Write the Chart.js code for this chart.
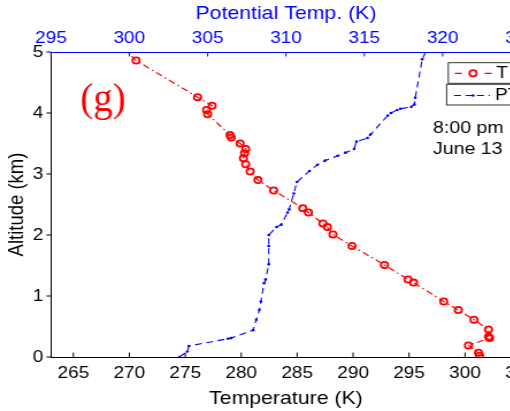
<!DOCTYPE html>
<html>
<head>
<meta charset="utf-8">
<script src="https://cdn.jsdelivr.net/npm/chart.js@4/dist/chart.umd.min.js"></script>
<style>
  html, body { margin: 0; padding: 0; background: #fff; overflow: hidden; width: 510px; height: 411px; }
  #wrap { position: absolute; left: 0; top: 0; width: 480px; height: 411px;
          transform: scaleX(1.15); transform-origin: 0 0; }
  canvas { display: block; }
</style>
</head>
<body>
<div id="wrap"><canvas id="c" width="480" height="411"></canvas></div>
<script>
// Temperature sounding: altitude (km) and temperature (K)
const tempAlt = [5.10, 4.86, 4.26, 4.12, 4.05, 3.98, 3.64, 3.60, 3.50, 3.41, 3.34, 3.26, 3.16, 3.04,
                 2.90, 2.73, 2.44, 2.37, 2.19, 2.13, 2.01, 1.82, 1.51, 1.27, 1.22, 0.91, 0.77, 0.61,
                 0.45, 0.33, 0.31, 0.19, 0.07, 0.02];
const tempK   = [269.3, 270.6, 276.1, 277.4, 276.9, 277.0, 279.0, 279.1, 279.9, 280.4, 280.3, 280.2, 280.4, 280.8,
                 281.5, 282.9, 285.5, 286.0, 287.3, 287.7, 288.2, 289.9, 292.8, 294.9, 295.4, 298.1, 299.4, 300.8,
                 302.1, 302.1, 302.2, 300.3, 301.2, 301.3];

// Potential temperature profile: altitude (km) and theta (K)
const thetaAlt = [0.00, 0.09, 0.18, 0.30, 0.31, 0.44, 0.61, 0.77, 0.91, 1.21, 1.27, 1.52, 1.82, 2.00,
                  2.13, 2.17, 2.37, 2.42, 2.68, 2.87, 3.05, 3.15, 3.22, 3.30, 3.35, 3.41, 3.53, 3.59,
                  3.65, 3.96, 4.00, 4.05, 4.07, 4.10, 4.14, 4.25, 4.88, 5.10];
const thetaK   = [303.2, 303.7, 303.8, 306.3, 306.5, 307.9, 308.1, 308.3, 308.4, 308.6, 308.7, 308.9, 308.9, 308.9,
                  309.4, 309.7, 310.1, 310.2, 310.5, 310.7, 311.5, 312.0, 312.5, 313.3, 313.8, 314.35, 314.5, 315.2,
                  315.4, 316.5, 316.7, 317.1, 317.3, 318.0, 318.2, 318.25, 318.7, 319.1];

// Axis tick labels
const tempTicks  = [265, 270, 275, 280, 285, 290, 295, 300, 305];
const thetaTicks = [295, 300, 305, 310, 315, 320, 325];
const altTicks   = [0, 1, 2, 3, 4, 5];

const SANS = '"Liberation Sans", Arial, Helvetica, sans-serif';
const SERIF = '"Liberation Serif", "Times New Roman", serif';
const RED = '#ff0000';
const BLUE = '#0000ff';

const useTicks = arr => scale => { scale.ticks = arr.map(v => ({ value: v })); };

// Short tick marks in the MATLAB style
const tickMarks = {
  id: 'tickMarks',
  afterDraw(chart) {
    const { ctx, chartArea: a, scales } = chart;
    ctx.save();
    ctx.lineWidth = 1;
    ctx.strokeStyle = '#000';
    ctx.beginPath();
    scales.x.ticks.forEach(t => {
      const p = scales.x.getPixelForValue(t.value);
      ctx.moveTo(p, a.bottom); ctx.lineTo(p, a.bottom - 4.5);
    });
    scales.y.ticks.forEach(t => {
      const p = scales.y.getPixelForValue(t.value);
      ctx.moveTo(a.left, p); ctx.lineTo(a.left - 4, p);
    });
    ctx.stroke();
    ctx.strokeStyle = BLUE;
    ctx.beginPath();
    scales.x2.ticks.forEach(t => {
      const p = scales.x2.getPixelForValue(t.value);
      ctx.moveTo(p, a.top); ctx.lineTo(p, a.top + 4.5);
    });
    ctx.stroke();
    ctx.restore();
  }
};

// Two stacked legend boxes plus the panel annotations
const annotations = {
  id: 'annotations',
  afterDraw(chart) {
    const { ctx, chartArea: a } = chart;
    const [dT, dP] = chart.data.datasets;
    const R = a.right;
    ctx.save();

    // legend box for T
    ctx.fillStyle = '#fff';
    ctx.strokeStyle = '#333';
    ctx.lineWidth = 1;
    ctx.fillRect(R - 63.2, 62.7, 58, 20.6);
    ctx.strokeRect(R - 63.2, 62.7, 58, 20.6);
    ctx.strokeStyle = dT.borderColor;
    ctx.lineWidth = 1.3;
    ctx.beginPath();
    ctx.moveTo(R - 57.5, 73.3); ctx.lineTo(R - 51.5, 73.3);
    ctx.moveTo(R - 31.5, 73.3); ctx.lineTo(R - 25.5, 73.3);
    ctx.stroke();
    ctx.lineWidth = dT.pointBorderWidth;
    ctx.beginPath();
    ctx.arc(R - 41.7, 73.3, dT.pointRadius, 0, Math.PI * 2);
    ctx.stroke();
    ctx.fillStyle = '#000';
    ctx.font = '16.5px ' + SANS;
    ctx.textBaseline = 'middle';
    ctx.textAlign = 'left';
    ctx.fillText(dT.label, R - 21.5, 73.6);

    // legend box for PT
    ctx.fillStyle = '#fff';
    ctx.strokeStyle = '#333';
    ctx.lineWidth = 1;
    ctx.fillRect(R - 64.6, 84.3, 59.4, 20.7);
    ctx.strokeRect(R - 64.6, 84.3, 59.4, 20.7);
    ctx.strokeStyle = dP.borderColor;
    ctx.lineWidth = dP.borderWidth;
    ctx.setLineDash(dP.borderDash);
    ctx.beginPath();
    ctx.moveTo(R - 58.2, 95.5); ctx.lineTo(R - 27, 95.5);
    ctx.stroke();
    ctx.setLineDash([]);
    ctx.fillStyle = dP.pointBackgroundColor;
    ctx.beginPath();
    ctx.arc(R - 41.7, 95.5, dP.pointRadius, 0, Math.PI * 2);
    ctx.fill();
    ctx.fillStyle = '#000';
    ctx.fillText(dP.label, R - 22.5, 95.5);

    // time stamp
    ctx.font = '17px ' + SANS;
    ctx.fillText('8:00 pm', 376.5, 128.5);
    ctx.fillText('June 13', 376.5, 149.5);

    // panel letter
    ctx.fillStyle = RED;
    ctx.font = '41px ' + SERIF;
    ctx.textAlign = 'center';
    ctx.translate(89.6, 100);
    ctx.scale(0.83, 1);
    ctx.fillText('(g)', 0, 0);
    ctx.restore();
  }
};

new Chart(document.getElementById('c'), {
  type: 'scatter',
  data: {
    datasets: [
      {
        label: 'T',
        data: tempAlt.map((a, i) => ({ x: tempK[i], y: a })),
        xAxisID: 'x', yAxisID: 'y',
        showLine: true,
        borderColor: RED, borderWidth: 1.2, borderDash: [6, 3, 1.5, 3],
        pointStyle: 'circle', pointRadius: 3.1, pointBorderWidth: 1.8,
        pointBorderColor: RED, pointBackgroundColor: 'rgba(0,0,0,0)',
        clip: 0
      },
      {
        label: 'PT',
        data: thetaAlt.map((a, i) => ({ x: thetaK[i], y: a })),
        xAxisID: 'x2', yAxisID: 'y',
        showLine: true,
        borderColor: BLUE, borderWidth: 1.1, borderDash: [6, 4],
        pointStyle: 'circle', pointRadius: 1.3, pointBorderWidth: 0,
        pointBorderColor: BLUE, pointBackgroundColor: BLUE,
        clip: 0
      }
    ]
  },
  options: {
    responsive: false,
    animation: false,
    devicePixelRatio: 1,
    events: [],
    layout: { autoPadding: false, padding: { left: 0, top: 0, bottom: 0, right: 27 } },
    plugins: { legend: { display: false }, tooltip: { enabled: false } },
    scales: {
      x: {
        type: 'linear', position: 'bottom', min: 263, max: 305,
        afterBuildTicks: useTicks(tempTicks),
        afterFit: s => { s.height = 54; },
        grid: { display: true, drawOnChartArea: false, drawTicks: false },
        border: { display: true, color: '#000', width: 1 },
        ticks: { color: '#000', font: { family: SANS, size: 16.5 }, padding: 7, maxRotation: 0, autoSkip: false },
        title: { display: true, text: 'Temperature (K)', color: '#000',
                 font: { family: SANS, size: 18.5 }, padding: { top: 0, bottom: 1 } }
      },
      x2: {
        type: 'linear', position: 'top', min: 295, max: 325,
        afterBuildTicks: useTicks(thetaTicks),
        afterFit: s => { s.height = 52; },
        grid: { display: true, drawOnChartArea: false, drawTicks: false },
        border: { display: true, color: BLUE, width: 1 },
        ticks: { color: BLUE, font: { family: SANS, size: 16.5 }, padding: 4, maxRotation: 0, autoSkip: false },
        title: { display: true, text: 'Potential Temp. (K)', color: BLUE,
                 font: { family: SANS, size: 18.5 }, padding: { top: 3.3, bottom: 0 } }
      },
      y: {
        type: 'linear', position: 'left', min: 0, max: 5,
        afterBuildTicks: useTicks(altTicks),
        afterFit: s => { s.width = 44.35; },
        grid: { display: true, drawOnChartArea: false, drawTicks: false },
        border: { display: true, color: '#000', width: 1 },
        ticks: { color: '#000', font: { family: SANS, size: 16.5 }, padding: 6.7, autoSkip: false },
        title: { display: true, text: 'Altitude (km)', color: '#000',
                 font: { family: SANS, size: 18.5 }, padding: { top: 4, bottom: 0 } }
      }
    }
  },
  plugins: [tickMarks, annotations]
});
</script>
</body>
</html>
